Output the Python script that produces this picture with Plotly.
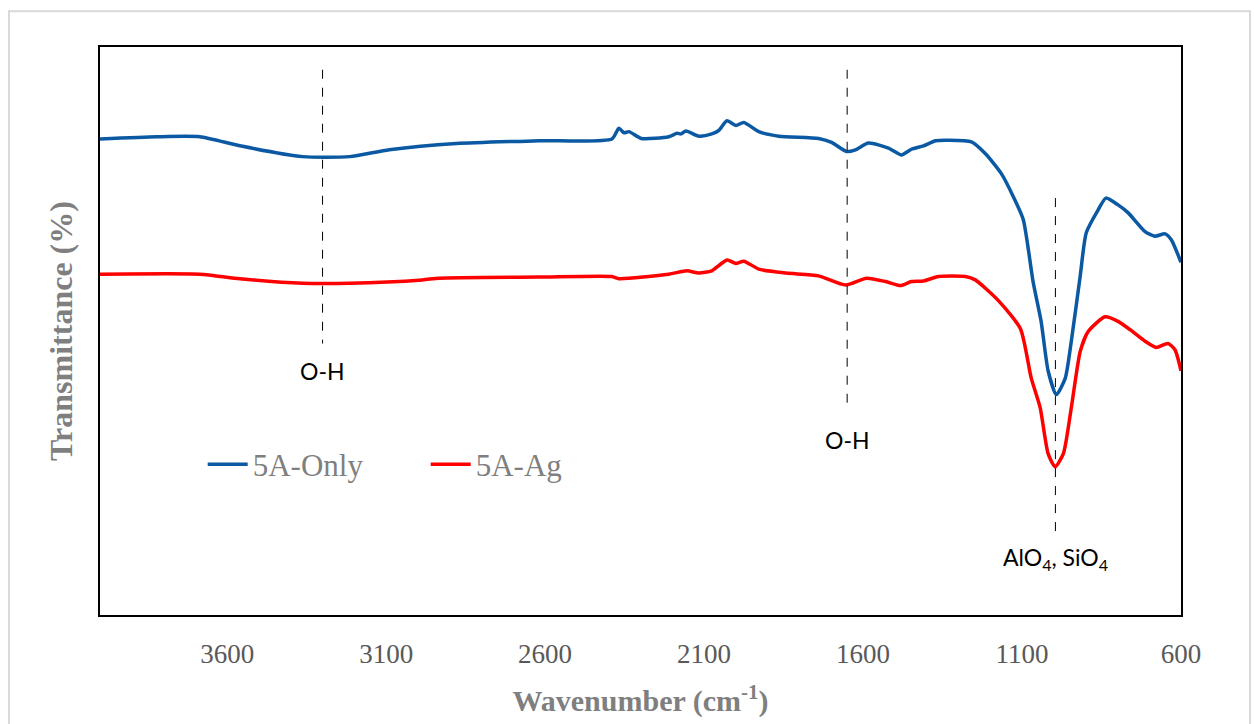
import plotly.graph_objects as go

# Wavenumber (cm-1) and transmittance (arbitrary %)
wn_only = [4000, 3821, 3686, 3560, 3363, 3215, 3090, 2879, 2619, 2390, 2368, 2352, 2336, 2298,
           2211, 2185, 2173, 2157, 2116, 2076, 2054, 2028, 2000, 1975, 1928, 1865, 1740, 1699,
           1652, 1624, 1583, 1520, 1479, 1448, 1410, 1372, 1332, 1259, 1215, 1165, 1127, 1096,
           1065, 1040, 1018, 992, 964, 945, 917, 898, 861, 836, 798, 766, 713, 682, 650, 631, 600]
t_only = [83.8, 84.2, 84.2, 82.6, 80.7, 80.7, 81.9, 83.0, 83.5, 83.8, 85.7, 84.9, 85.1, 83.9,
          84.2, 84.8, 84.7, 85.2, 84.3, 84.7, 85.3, 87.0, 86.2, 86.7, 85.1, 84.3, 83.9, 83.2,
          81.6, 81.9, 83.1, 82.2, 81.0, 82.0, 82.6, 83.5, 83.6, 83.3, 81.2, 77.7, 73.6, 69.6,
          58.6, 51.7, 43.0, 38.8, 41.7, 48.2, 59.7, 67.3, 71.3, 73.4, 72.2, 70.8, 67.5, 66.7, 67.1, 66.1, 62.1]

wn_ag = [4000, 3686, 3560, 3363, 3215, 2986, 2933, 2619, 2390, 2368, 2211, 2154, 2116, 2076,
         2028, 2000, 1975, 1928, 1843, 1740, 1655, 1589, 1529, 1482, 1448, 1410, 1363, 1278,
         1247, 1175, 1105, 1071, 1043, 1018, 996, 970, 945, 917, 892, 839, 798, 757, 713, 678,
         641, 619, 600]
t_ag = [60.0, 60.0, 59.2, 58.4, 58.4, 59.0, 59.3, 59.5, 59.6, 59.2, 60.0, 60.6, 60.2, 60.6,
        62.5, 61.9, 62.3, 60.9, 60.2, 59.7, 58.1, 59.3, 58.7, 58.0, 58.7, 58.8, 59.6, 59.6,
        59.0, 55.4, 50.4, 41.7, 36.5, 28.4, 26.1, 28.4, 36.5, 46.4, 49.9, 52.5, 51.7, 50.1, 48.2, 47.1,
        47.8, 46.7, 43.0]

series_names = ["5A-Only", "5A-Ag"]

# Peak markers: wavenumber, dashed line start/end, label text and label height
peak_wn = [3300, 1650, 995]
peak_top = [96.0, 96.0, 73.4]
peak_bottom = [47.8, 36.2, 14.3]
peak_labels = ["O-H", "O-H", "AlO<sub>4</sub>, SiO<sub>4</sub>"]
peak_label_y = [43.0, 30.8, 9.9]

tick_vals = [3600, 3100, 2600, 2100, 1600, 1100, 600]

fig = go.Figure()
fig.add_trace(go.Scatter(x=wn_only, y=t_only, mode="lines", name=series_names[0],
                         line=dict(color="#0B59A2", width=3.5, shape="spline", smoothing=0.6)))
fig.add_trace(go.Scatter(x=wn_ag, y=t_ag, mode="lines", name=series_names[1],
                         line=dict(color="#FF0000", width=3.5, shape="spline", smoothing=0.6)))

for w, t0, t1, lab, ly in zip(peak_wn, peak_top, peak_bottom, peak_labels, peak_label_y):
    fig.add_shape(type="line", x0=w, x1=w, y0=t0, y1=t1, xref="x", yref="y",
                  line=dict(color="black", width=1, dash="dash"))
    fig.add_annotation(x=w, y=ly, text=lab, showarrow=False, xref="x", yref="y",
                       font=dict(family="Lato, Open Sans, sans-serif", size=23, color="black"))

# outer light border
fig.add_shape(type="rect", xref="paper", yref="paper", x0=-0.0842, x1=1.0638, y0=-0.3, y1=1.0628,
              line=dict(color="#D9D9D9", width=2), layer="below")

serif = "Liberation Serif"
fig.update_layout(
    width=1254, height=724,
    margin=dict(l=100, r=73, t=47, b=104),
    paper_bgcolor="white", plot_bgcolor="white",
    font=dict(family=serif, color="#595959"),
    showlegend=True,
    legend=dict(orientation="h", x=0.095, y=0.265, xanchor="left", yanchor="middle",
                font=dict(family=serif, size=31, color="#7F7F7F"),
                bgcolor="rgba(0,0,0,0)", itemwidth=40, tracegroupgap=0,
                entrywidth=168),
    xaxis=dict(range=[4000, 600], tickvals=tick_vals, ticktext=[str(v) for v in tick_vals],
               showgrid=False, zeroline=False, showline=True, linecolor="black", linewidth=2,
               mirror=True, ticks="", ticklen=0, ticklabelstandoff=14,
               tickfont=dict(family=serif, size=27, color="#595959"),
               title=dict(text="<b>Wavenumber (cm<sup>-1</sup>)</b>", standoff=22,
                          font=dict(family=serif, size=30, color="#7F7F7F"))),
    yaxis=dict(range=[0, 100], showticklabels=False, showgrid=False, zeroline=False,
               showline=True, linecolor="black", linewidth=2, mirror=True, ticks="",
               title=dict(text="<b>Transmittance (%)</b>", standoff=16,
                          font=dict(family=serif, size=32, color="#7F7F7F"))),
)

fig.write_html("out.html")
